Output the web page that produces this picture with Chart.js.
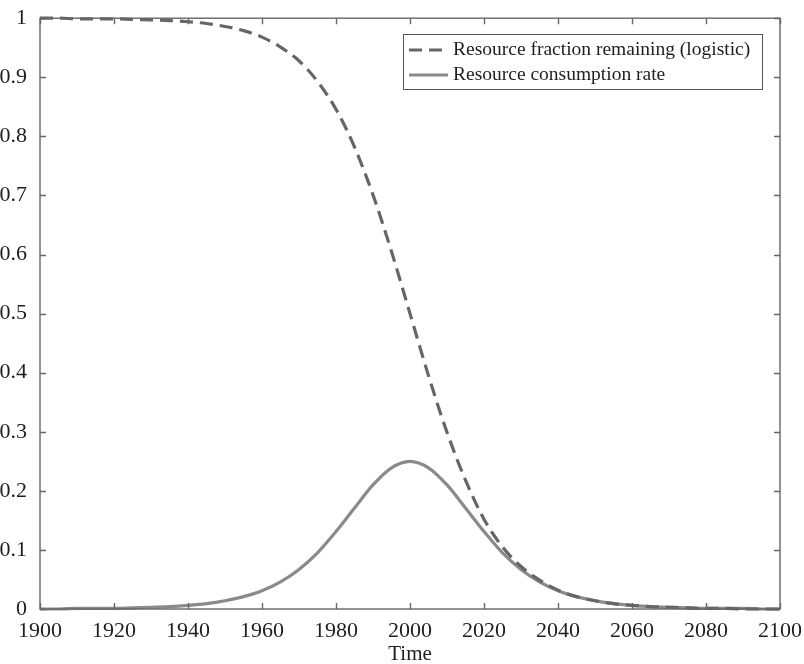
<!DOCTYPE html>
<html>
<head>
<meta charset="utf-8">
<script src="https://cdn.jsdelivr.net/npm/chart.js@4/dist/chart.umd.min.js"></script>
<style>
  html, body { margin: 0; padding: 0; background: #fff; }
  #wrap { width: 804px; height: 664px; }
</style>
</head>
<body>
<div id="wrap"><canvas id="chart" width="804" height="664"></canvas></div>
<script>
// Years sampled every 5 years
const years = [
  1900, 1905, 1910, 1915, 1920, 1925, 1930, 1935, 1940, 1945,
  1950, 1955, 1960, 1965, 1970, 1975, 1980, 1985, 1990, 1995,
  2000, 2005, 2010, 2015, 2020, 2025, 2030, 2035, 2040, 2045,
  2050, 2055, 2060, 2065, 2070, 2075, 2080, 2085, 2090, 2095, 2100
];

// fraction of the resource still in the ground
const remaining = [
  1.000, 1.000, 0.999, 0.999, 0.999, 0.998, 0.997, 0.996, 0.994, 0.991,
  0.986, 0.979, 0.968, 0.951, 0.928, 0.893, 0.846, 0.782, 0.701, 0.605,
  0.500, 0.395, 0.299, 0.218, 0.152, 0.105, 0.072, 0.049, 0.032, 0.021,
  0.014, 0.009, 0.006, 0.004, 0.003, 0.002, 0.001, 0.001, 0.000, 0.000, 0.000
];

// rate at which it is used up
const consumption = [
  0.000, 0.000, 0.001, 0.001, 0.001, 0.002, 0.003, 0.004, 0.006, 0.009,
  0.014, 0.021, 0.031, 0.046, 0.067, 0.095, 0.131, 0.171, 0.210, 0.239,
  0.250, 0.239, 0.210, 0.171, 0.131, 0.095, 0.067, 0.046, 0.031, 0.021,
  0.014, 0.009, 0.006, 0.004, 0.003, 0.002, 0.001, 0.001, 0.001, 0.000, 0.000
];

const seriesLabels = ['Resource fraction remaining (logistic)', 'Resource consumption rate'];
const xTicks = [1900, 1920, 1940, 1960, 1980, 2000, 2020, 2040, 2060, 2080, 2100];
const yTicks = [0, 0.1, 0.2, 0.3, 0.4, 0.5, 0.6, 0.7, 0.8, 0.9, 1];

const FONT = '"Liberation Serif", "DejaVu Serif", serif';
const AXIS = '#666666';
const TEXT = '#1e1e1e';

// inward tick marks, closed frame and boxed legend
const frame = {
  id: 'frame',
  afterDatasetsDraw(chart) {
    const { ctx, chartArea: a, scales } = chart;
    const len = 6;
    ctx.save();
    ctx.strokeStyle = AXIS;
    ctx.lineWidth = 1.4;
    ctx.strokeRect(a.left, a.top, a.right - a.left, a.bottom - a.top);
    ctx.beginPath();
    xTicks.forEach(v => {
      const x = Math.round(scales.x.getPixelForValue(v)) + 0.5;
      ctx.moveTo(x, a.bottom); ctx.lineTo(x, a.bottom - len);
      ctx.moveTo(x, a.top); ctx.lineTo(x, a.top + len);
    });
    yTicks.forEach(v => {
      const y = Math.round(scales.y.getPixelForValue(v)) + 0.5;
      ctx.moveTo(a.left, y); ctx.lineTo(a.left + len, y);
      ctx.moveTo(a.right, y); ctx.lineTo(a.right - len, y);
    });
    ctx.stroke();

    // legend box
    const bx = 403, by = 34, bw = 359, bh = 55;
    ctx.fillStyle = '#fff';
    ctx.fillRect(bx, by, bw, bh);
    ctx.strokeStyle = '#555';
    ctx.lineWidth = 1;
    ctx.strokeRect(bx + 0.5, by + 0.5, bw, bh);
    ctx.font = '19.5px ' + FONT;
    ctx.textBaseline = 'middle';
    chart.data.datasets.forEach((ds, i) => {
      const y = by + 16 + i * 25;
      ctx.strokeStyle = ds.borderColor;
      ctx.lineWidth = ds.borderWidth;
      ctx.setLineDash(ds.borderDash || []);
      ctx.beginPath();
      ctx.moveTo(409, y); ctx.lineTo(448, y);
      ctx.stroke();
      ctx.setLineDash([]);
      ctx.fillStyle = TEXT;
      ctx.fillText(ds.label, 453, y);
    });
    ctx.restore();
  }
};

new Chart(document.getElementById('chart'), {
  type: 'line',
  data: {
    labels: years,
    datasets: [
      {
        label: seriesLabels[0],
        data: years.map((y, i) => ({ x: y, y: remaining[i] })),
        borderColor: '#666666',
        borderWidth: 3.2,
        borderDash: [13, 7],
        pointRadius: 0,
        cubicInterpolationMode: 'monotone',
        clip: 4
      },
      {
        label: seriesLabels[1],
        data: years.map((y, i) => ({ x: y, y: consumption[i] })),
        borderColor: '#8a8a8a',
        borderWidth: 3.2,
        pointRadius: 0,
        cubicInterpolationMode: 'monotone',
        clip: 4
      }
    ]
  },
  options: {
    responsive: false,
    animation: false,
    layout: { padding: { top: 17, right: 24, left: 0, bottom: 0 } },
    plugins: {
      legend: { display: false },
      tooltip: { enabled: false }
    },
    scales: {
      x: {
        type: 'linear',
        min: 1900,
        max: 2100,
        afterFit: s => { s.height = 55; },
        afterBuildTicks: s => { s.ticks = xTicks.map(v => ({ value: v })); },
        grid: { display: false },
        border: { display: false },
        ticks: { color: TEXT, font: { family: FONT, size: 22 }, padding: 1, maxRotation: 0, callback: v => String(v) },
        title: { display: true, text: 'Time', color: TEXT, font: { family: FONT, size: 21 }, padding: { top: 0, bottom: -3 } }
      },
      y: {
        min: 0,
        max: 1,
        afterFit: s => { s.width = 40; },
        afterBuildTicks: s => { s.ticks = yTicks.map(v => ({ value: v })); },
        grid: { display: false },
        border: { display: false },
        ticks: { color: TEXT, font: { family: FONT, size: 22 }, padding: 5, callback: v => String(+v.toFixed(1)) }
      }
    }
  },
  plugins: [frame]
});
</script>
</body>
</html>
